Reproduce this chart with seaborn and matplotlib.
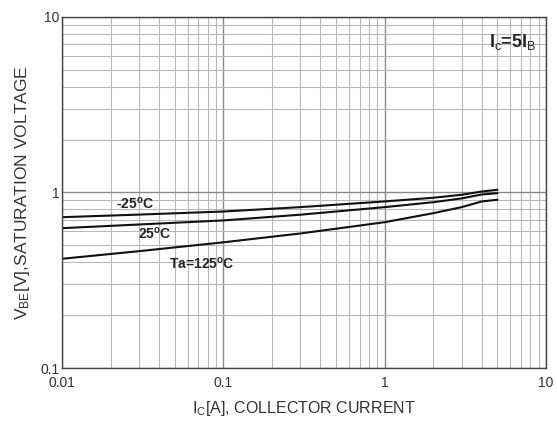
import matplotlib
matplotlib.use("Agg")
import matplotlib.pyplot as plt
import matplotlib.ticker as mticker
import seaborn as sns
import pandas as pd

# Data
current = [0.01, 0.03, 0.1, 0.3, 1, 2, 3, 4, 5]
vbe_m25 = [0.723, 0.748, 0.779, 0.825, 0.889, 0.933, 0.97, 1.013, 1.036]
vbe_25 = [0.626, 0.657, 0.693, 0.747, 0.825, 0.88, 0.925, 0.974, 0.991]
vbe_125 = [0.419, 0.463, 0.52, 0.584, 0.677, 0.762, 0.825, 0.889, 0.909]
series_names = ["-25", "25", "125"]

x_ticks = [0.01, 0.1, 1, 10]
x_tick_labels = ["0.01", "0.1", "1", "10"]
y_ticks = [0.1, 1, 10]
y_tick_labels = ["0.1", "1", "10"]

df = pd.concat([
    pd.DataFrame({"Ic": current, "Vbe": v, "T": n})
    for v, n in zip([vbe_m25, vbe_25, vbe_125], series_names)
])

sns.set_theme(style="white")
plt.rcParams["font.family"] = ["Liberation Sans", "DejaVu Sans"]
plt.rcParams["mathtext.fontset"] = "custom"
plt.rcParams["mathtext.rm"] = "Liberation Sans"
plt.rcParams["mathtext.bf"] = "Liberation Sans:bold"
plt.rcParams["mathtext.it"] = "Liberation Sans:italic"

fig = plt.figure(figsize=(5.57, 4.23), dpi=100)
ax = fig.add_axes([0.1113, 0.130, 0.869, 0.830])

sns.lineplot(data=df, x="Ic", y="Vbe", hue="T", palette=["#111111"] * 3,
             legend=False, ax=ax, linewidth=1.5, sort=False)

ax.set_xscale("log")
ax.set_yscale("log")
ax.set_xlim(0.01, 10)
ax.set_ylim(0.1, 10)

ax.xaxis.set_major_locator(mticker.FixedLocator(x_ticks))
ax.xaxis.set_major_formatter(mticker.FixedFormatter(x_tick_labels))
ax.yaxis.set_major_locator(mticker.FixedLocator(y_ticks))
ax.yaxis.set_major_formatter(mticker.FixedFormatter(y_tick_labels))
ax.xaxis.set_minor_locator(mticker.LogLocator(base=10, subs=range(2, 10)))
ax.yaxis.set_minor_locator(mticker.LogLocator(base=10, subs=range(2, 10)))
ax.xaxis.set_minor_formatter(mticker.NullFormatter())
ax.yaxis.set_minor_formatter(mticker.NullFormatter())

ax.grid(which="major", color="#8a8a8a", linewidth=1.0)
ax.grid(which="minor", color="#b8b8b8", linewidth=0.8)
ax.set_axisbelow(True)
ax.tick_params(which="both", length=0, labelsize=10, colors="#333333")
ax.tick_params(axis="x", pad=6)
ax.tick_params(axis="y", pad=2)
for s in ax.spines.values():
    s.set_color("#444444")
    s.set_linewidth(1.0)

ax.set_xlabel(r"I$_{\mathrm{C}}$[A], COLLECTOR CURRENT", fontsize=11.5, color="#333333", labelpad=6)
ax.set_ylabel(r"V$_{\mathrm{BE}}$[V],SATURATION VOLTAGE", fontsize=12.5, color="#333333", labelpad=6)

ax.text(0.0283, 0.865, r"-25$^{\mathbf{o}}$C", fontsize=10, fontweight="bold", ha="center", va="center")
ax.text(0.0376, 0.584, r"25$^{\mathbf{o}}$C", fontsize=10, fontweight="bold", ha="center", va="center")
ax.text(0.0736, 0.394, r"Ta=125$^{\mathbf{o}}$C", fontsize=10, fontweight="bold", ha="center", va="center")
ax.text(6.2, 7.2, r"I$_{\mathrm{c}}$=5I$_{\mathrm{B}}$", fontsize=13, fontweight="bold", ha="center", va="center")

fig.savefig("out.png", dpi=100)
